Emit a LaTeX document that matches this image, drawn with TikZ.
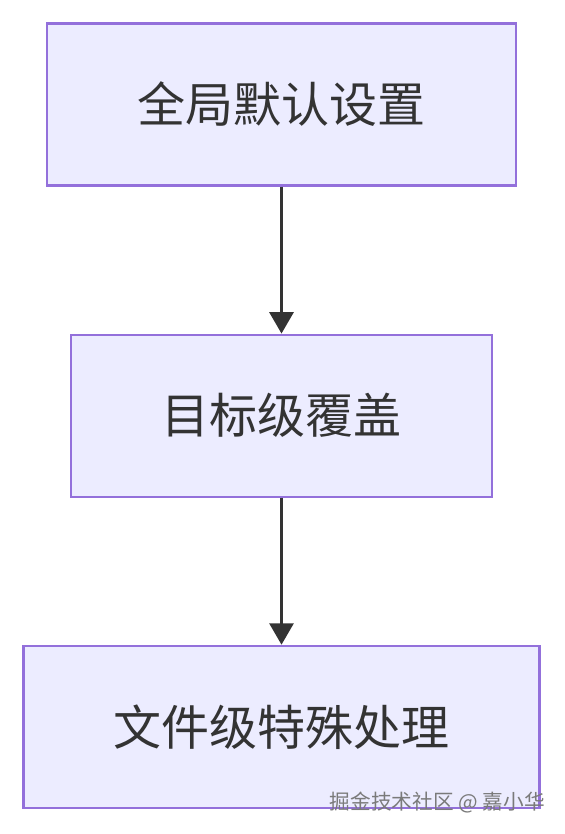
\documentclass[tikz,border=0pt]{standalone}
\usepackage{fontspec}
\newfontfamily\cjk{Noto Sans CJK SC}
\usetikzlibrary{arrows.meta, positioning}
\definecolor{boxfill}{HTML}{ECECFF}
\definecolor{boxline}{HTML}{9370DB}
\definecolor{flowline}{HTML}{333333}
\definecolor{marktext}{HTML}{7A7A7A}

\begin{document}
\begin{tikzpicture}[node distance=110.25pt, x=0.75pt, y=-0.75pt,
    box/.style={draw=boxline, line width=1.6pt, fill=boxfill, rectangle,
      minimum height=121.5pt, text=flowline, font=\cjk\fontsize{36}{42}\selectfont},
    flow/.style={draw=flowline, line width=2pt, -{Triangle[length=16pt, width=18pt]}}]
    \useasboundingbox (0,0) rectangle (564,834);

    % Stufen
    \node [box, minimum width=351.75pt] (global) at (281.5,104.5) {全局默认设置};
    \node [box, minimum width=315.75pt, below=of global] (target) {目标级覆盖};
    \node [box, minimum width=387pt, below=of target] (file) {文件级特殊处理};

    \draw[flow] (global) -- (target);
    \draw[flow] (target) -- (file);

    % Wasserzeichen
    \node [anchor=east, inner sep=0pt, text=marktext, font=\cjk\fontsize{15.5}{18}\selectfont] (mark) at (545,803) {掘金技术社区 @ 嘉小华};
  \end{tikzpicture}
\end{document}
